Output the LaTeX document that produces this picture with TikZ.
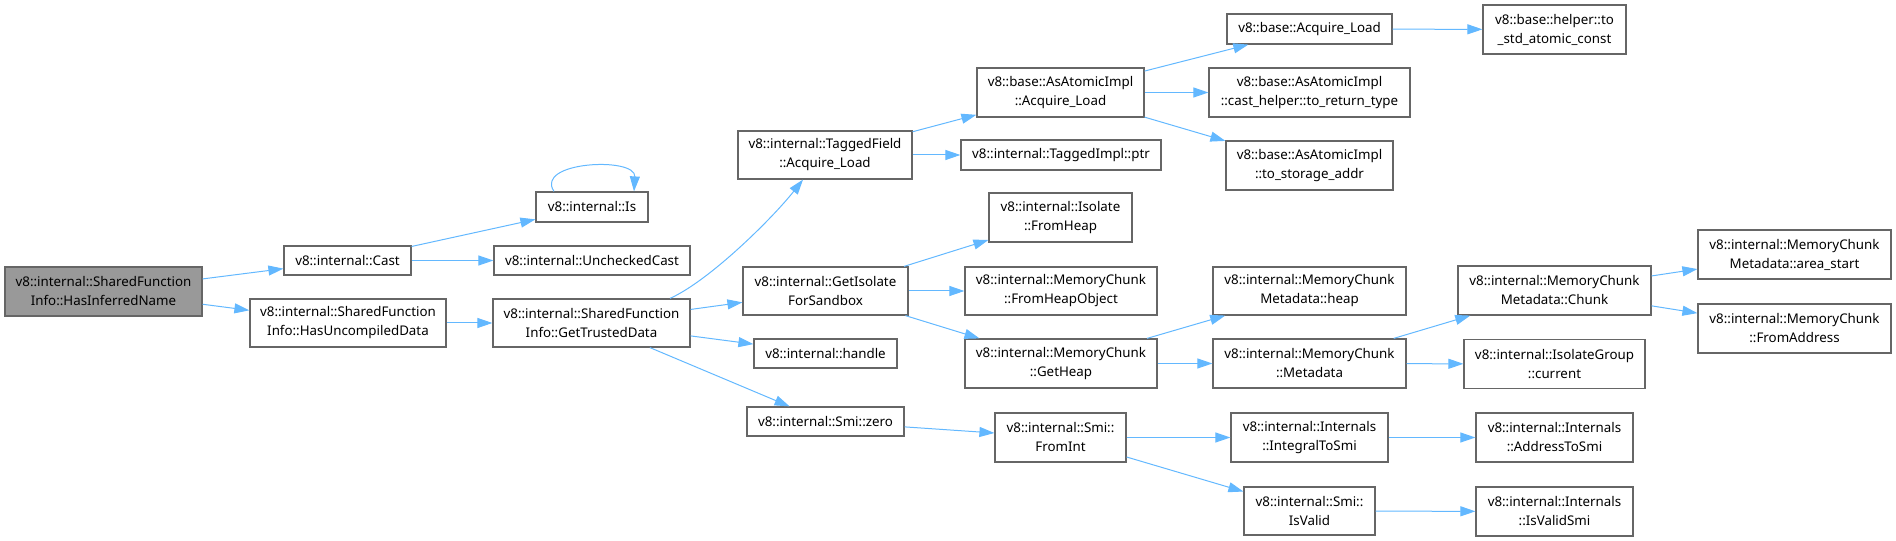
\documentclass[tikz,border=0pt]{standalone}
\usepackage{fontspec}
\setmainfont{Noto Sans}
\usetikzlibrary{arrows.meta,calc}
\definecolor{edgeblue}{HTML}{63B8FF}
\definecolor{boxline}{HTML}{666666}
\definecolor{rootfill}{HTML}{999999}
\begin{document}
\begin{tikzpicture}[x=0.75pt,y=-0.75pt,
  box/.style={draw=boxline,line width=0.9pt,fill=white,rectangle,inner sep=0pt,align=center,
    font=\fontsize{10}{14.25}\selectfont,text=black},
  wh/.style 2 args={minimum width=#1*0.75pt,minimum height=#2*0.75pt},
  rootbox/.style={box,fill=rootfill},
  edge/.style={draw=edgeblue,line width=0.75pt,-{Triangle[length=11.25pt,width=7.5pt]}}]
\useasboundingbox (0,0) rectangle (1896,541);
% column 1
\node[rootbox,wh={197}{49}] (root) at (103.5,291.5) {v8::internal::SharedFunction\\Info::HasInferredName};
% column 2
\node[box,wh={127}{29}] (cast) at (347.5,260.5) {v8::internal::Cast};
\node[box,wh={196}{48}] (hud) at (348,323) {v8::internal::SharedFunction\\Info::HasUncompiledData};
% column 3
\node[box,wh={112}{30}] (is) at (592,207) {v8::internal::Is};
\node[box,wh={196}{29}] (unch) at (592,260.5) {v8::internal::UncheckedCast};
\node[box,wh={197}{48}] (gtd) at (591.5,323) {v8::internal::SharedFunction\\Info::GetTrustedData};
% column 4
\node[box,wh={174}{48}] (tf) at (825,155) {v8::internal::TaggedField\\::Acquire\_Load};
\node[box,wh={165}{48}] (gis) at (825.5,291) {v8::internal::GetIsolate\\ForSandbox};
\node[box,wh={143}{29}] (handle) at (825.5,353.5) {v8::internal::handle};
\node[box,wh={157}{29}] (zero) at (825.5,421.5) {v8::internal::Smi::zero};
% column 5
\node[box,wh={167}{49}] (aal) at (1060.5,92.5) {v8::base::AsAtomicImpl\\::Acquire\_Load};
\node[box,wh={200}{30}] (ptr) at (1061,155) {v8::internal::TaggedImpl::ptr};
\node[box,wh={143}{49}] (fh) at (1060.5,217.5) {v8::internal::Isolate\\::FromHeap};
\node[box,wh={192}{48}] (fho) at (1061,291) {v8::internal::MemoryChunk\\::FromHeapObject};
\node[box,wh={192}{49}] (gh) at (1061,363.5) {v8::internal::MemoryChunk\\::GetHeap};
\node[box,wh={131}{49}] (fi) at (1060.5,437.5) {v8::internal::Smi::\\FromInt};
% column 6
\node[box,wh={165}{30}] (bal) at (1309.5,29) {v8::base::Acquire\_Load};
\node[box,wh={201}{49}] (ch) at (1309.5,92.5) {v8::base::AsAtomicImpl\\::cast\_helper::to\_return\_type};
\node[box,wh={167}{49}] (tsa) at (1309.5,165.5) {v8::base::AsAtomicImpl\\::to\_storage\_addr};
\node[box,wh={193}{48}] (mheap) at (1309.5,291) {v8::internal::MemoryChunk\\Metadata::heap};
\node[box,wh={193}{49}] (meta) at (1309.5,363.5) {v8::internal::MemoryChunk\\::Metadata};
\node[box,wh={157}{49}] (its) at (1309.5,437.5) {v8::internal::Internals\\::IntegralToSmi};
\node[box,wh={131}{48}] (iv) at (1309.5,511) {v8::internal::Smi::\\IsValid};
% column 7
\node[box,wh={143}{49}] (tsac) at (1554.5,29.5) {v8::base::helper::to\\\_std\_atomic\_const};
\node[box,wh={193}{49}] (chunk) at (1554.5,290.5) {v8::internal::MemoryChunk\\Metadata::Chunk};
\node[box,wh={181}{49}] (cur) at (1554.5,364) {v8::internal::IsolateGroup\\::current};
\node[box,wh={157}{49}] (ats) at (1554.5,437.5) {v8::internal::Internals\\::AddressToSmi};
\node[box,wh={157}{49}] (ivs) at (1554.5,511.5) {v8::internal::Internals\\::IsValidSmi};
% column 8
\node[box,wh={193}{49}] (ast) at (1794.5,254.5) {v8::internal::MemoryChunk\\Metadata::area\_start};
\node[box,wh={193}{49}] (fa) at (1794.5,328.5) {v8::internal::MemoryChunk\\::FromAddress};
% edges
\draw[edge] (root) -- (cast);
\draw[edge] (root) -- (hud);
\draw[edge] (cast) -- (is);
\draw[edge] (cast) -- (unch);
\draw[edge] ($(is.north)+(-38,0)$) .. controls +(-20,-30) and +(2,-35) .. ($(is.north)+(42,0)$);
\draw[edge] (hud) -- (gtd);
\draw[edge] ($(gtd.north)+(78.5,0)$) .. controls +(40,-18) and +(-30,38) .. ($(tf.south)+(-22,0)$);
\draw[edge] (gtd) -- (gis);
\draw[edge] (gtd) -- (handle);
\draw[edge] (gtd) -- (zero);
\draw[edge] (tf) -- (aal);
\draw[edge] (tf) -- (ptr);
\draw[edge] (aal) -- (bal);
\draw[edge] (aal) -- (ch);
\draw[edge] (aal) -- (tsa);
\draw[edge] (bal) -- (tsac);
\draw[edge] (gis) -- (fh);
\draw[edge] (gis) -- (fho);
\draw[edge] (gis) -- (gh);
\draw[edge] (gh) -- (mheap);
\draw[edge] (gh) -- (meta);
\draw[edge] (meta) -- (chunk);
\draw[edge] (meta) -- (cur);
\draw[edge] (chunk) -- (ast);
\draw[edge] (chunk) -- (fa);
\draw[edge] (zero) -- (fi);
\draw[edge] (fi) -- (its);
\draw[edge] (fi) -- (iv);
\draw[edge] (its) -- (ats);
\draw[edge] (iv) -- (ivs);
\end{tikzpicture}
\end{document}
